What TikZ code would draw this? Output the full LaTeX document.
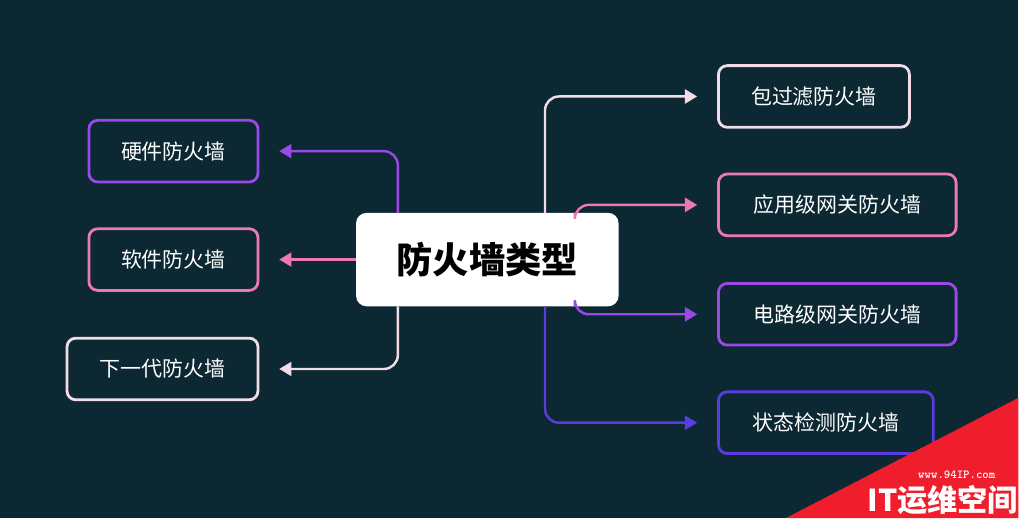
\documentclass[tikz,border=0pt]{standalone}
\usepackage{fontspec}
\setmainfont{Noto Sans CJK SC}
\usetikzlibrary{arrows.meta}
\definecolor{bgc}{HTML}{0C2833}
\definecolor{cpurple}{HTML}{9A48E6}
\definecolor{cpink}{HTML}{EE78B6}
\definecolor{clight}{HTML}{F2DCE8}
\definecolor{cblue}{HTML}{5A3CE0}
\definecolor{cred}{HTML}{F01E2C}
\tikzset{
  leaf/.style={draw=#1, line width=1.6pt, rounded corners=5pt, text=white,
    font=\large, minimum height=1.24cm, inner xsep=8pt, anchor=west},
  conn/.style={draw=#1, line width=1.4pt, rounded corners=8pt, -{Triangle[length=7pt,width=8pt]}}
}
\begin{document}
\begin{tikzpicture}[x=0.02cm,y=-0.02cm]
  \fill[bgc] (0,0) rectangle (1024,521);
  %center
  \node[fill=white, rounded corners=6pt, minimum width=5.28cm, minimum height=1.88cm,
    font=\huge\bfseries] (root) at (490,261) {防火墙类型};
  %left side
  \node[leaf=cpurple, minimum width=3.4cm] (hw) at (88,152) {硬件防火墙};
  \node[leaf=cpink, minimum width=3.4cm] (sw) at (88,261) {软件防火墙};
  \node[leaf=clight, minimum width=3.84cm] (ng) at (66,371) {下一代防火墙};
  %right side
  \node[leaf=clight, minimum width=3.84cm] (pf) at (721,97) {包过滤防火墙};
  \node[leaf=cpink, minimum width=4.78cm] (ag) at (721,206) {应用级网关防火墙};
  \node[leaf=cpurple, minimum width=4.78cm] (cg) at (721,316) {电路级网关防火墙};
  \node[leaf=cblue, minimum width=4.32cm] (si) at (721,425) {状态检测防火墙};
  %connectors
  \coordinate (rl1) at (400,214);
  \coordinate (rl3) at (400,308);
  \coordinate (rr1) at (548,214);
  \coordinate (rr2) at (578,214);
  \coordinate (rr3) at (578,308);
  \coordinate (rr4) at (548,308);
  \draw[conn=cpurple] (rl1) |- ([xshift=0.4cm]hw.east);
  \draw[conn=cpink] (root.west) -- ([xshift=0.4cm]sw.east);
  \draw[conn=clight] (rl3) |- ([xshift=0.4cm]ng.east);
  \draw[conn=clight] (rr1) |- ([xshift=-0.4cm]pf.west);
  \draw[conn=cpink] (rr2) |- ([xshift=-0.4cm]ag.west);
  \draw[conn=cpurple] (rr3) |- ([xshift=-0.4cm]cg.west);
  \draw[conn=cblue] (rr4) |- ([xshift=-0.4cm]si.west);
  %watermark
  \fill[cred] (1024,400) -- (1024,521) -- (790,521) -- cycle;
  \node[text=white, font=\scriptsize\ttfamily\bfseries] (url) at (962,477) {www.94IP.com};
  \node[text=white, font=\LARGE\bfseries] (wm) at (948,503) {IT运维空间};
\end{tikzpicture}
\end{document}
